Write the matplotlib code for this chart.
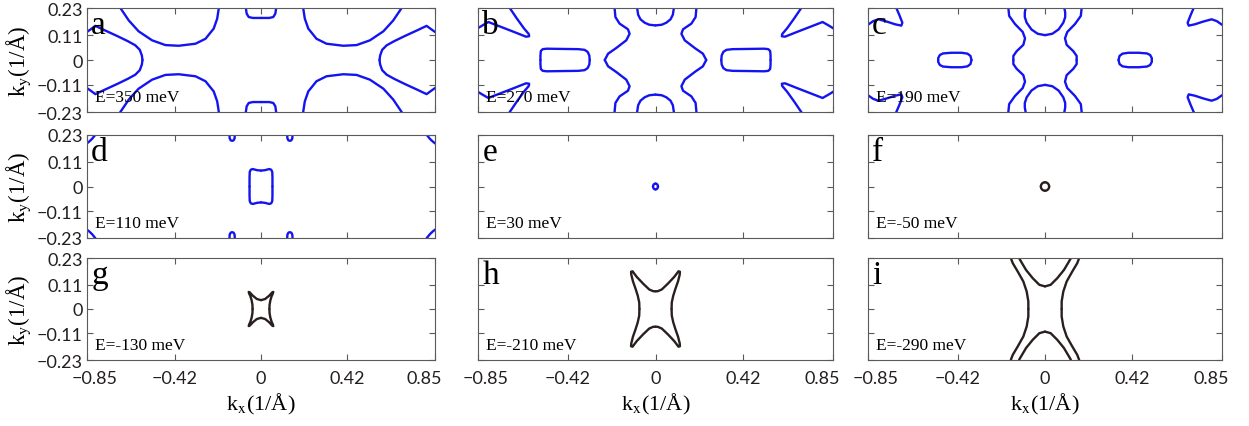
import matplotlib.pyplot as plt
import matplotlib.transforms as mtransforms
import numpy as np

plt.rcParams['mathtext.fontset'] = 'stix'

# axis ticks
kx_ticks = [-0.85, -0.42, 0, 0.42, 0.85]
kx_labels = ['\u22120.85', '\u22120.42', '0', '0.42', '0.85']
ky_ticks = [-0.23, -0.11, 0, 0.11, 0.23]
ky_labels = ['\u22120.23', '\u22120.11', '0', '0.11', '0.23']

panel_names = ['a', 'b', 'c', 'd', 'e', 'f', 'g', 'h', 'i']
energies = [350, 270, 190, 110, 30, -50, -130, -210, -290]

# Fermi contours, one quadrant (kx>=0, ky>=0) each; the rest follows by mirror symmetry
a_wedge = [(0.579, 0.0), (0.582, 0.02), (0.592, 0.045), (0.614, 0.065), (0.65, 0.083),
           (0.70, 0.105), (0.76, 0.13), (0.809, 0.151), (0.83, 0.137), (0.86, 0.118)]
a_pocket = [(0.206, 0.25), (0.206, 0.23), (0.214, 0.183), (0.231, 0.139), (0.271, 0.094),
            (0.32, 0.072), (0.402, 0.063), (0.467, 0.066), (0.532, 0.087), (0.598, 0.127),
            (0.646, 0.175), (0.687, 0.23), (0.70, 0.25)]
a_top = [(0.0, 0.186), (0.04, 0.186), (0.06, 0.19), (0.07, 0.205), (0.074, 0.23), (0.075, 0.25)]

b_side = [(0.315, 0.0), (0.317, 0.02), (0.325, 0.036), (0.34, 0.045), (0.37, 0.048),
          (0.45, 0.049), (0.52, 0.05), (0.54, 0.048), (0.549, 0.04), (0.551, 0.02), (0.551, 0.0)]
b_wavy = [(0.197, 0.25), (0.196, 0.23), (0.192, 0.19), (0.172, 0.161), (0.132, 0.136),
          (0.124, 0.116), (0.140, 0.087), (0.188, 0.053), (0.227, 0.028), (0.243, 0.0)]
b_top = [(0.0, 0.153), (0.03, 0.156), (0.052, 0.165), (0.072, 0.18), (0.083, 0.2),
         (0.088, 0.23), (0.089, 0.25)]
b_corner = [(0.71, 0.25), (0.698, 0.23), (0.665, 0.185), (0.63, 0.14), (0.607, 0.115),
            (0.605, 0.105), (0.62, 0.103), (0.68, 0.125), (0.75, 0.15), (0.80, 0.168),
            (0.825, 0.155), (0.85, 0.141), (0.87, 0.128)]

c_oval = [(0.353, 0.0), (0.358, 0.018), (0.372, 0.028), (0.40, 0.032), (0.45, 0.032),
          (0.49, 0.029), (0.505, 0.022), (0.513, 0.008), (0.513, 0.0)]
c_wavy = [(0.177, 0.25), (0.176, 0.23), (0.172, 0.195), (0.144, 0.159), (0.107, 0.124),
          (0.096, 0.096), (0.104, 0.067), (0.136, 0.039), (0.152, 0.018), (0.152, 0.0)]
c_top = [(0.0, 0.110), (0.035, 0.116), (0.065, 0.135), (0.088, 0.165), (0.097, 0.19),
         (0.097, 0.21), (0.093, 0.23), (0.091, 0.25)]
c_corner = [(0.725, 0.25), (0.714, 0.23), (0.70, 0.20), (0.685, 0.165), (0.69, 0.152),
            (0.72, 0.158), (0.76, 0.170), (0.80, 0.180), (0.825, 0.172), (0.85, 0.156),
            (0.87, 0.145)]

d_box = [(0.056, 0.0), (0.056, 0.04), (0.055, 0.065), (0.05, 0.075), (0.04, 0.078),
         (0.02, 0.073), (0.0, 0.071)]
d_top = [(0.128, 0.25), (0.128, 0.23), (0.129, 0.215), (0.134, 0.206), (0.141, 0.204),
         (0.148, 0.206), (0.153, 0.215), (0.154, 0.23), (0.154, 0.25)]
d_corner = [(0.80, 0.245), (0.81, 0.23), (0.825, 0.213), (0.84, 0.2), (0.85, 0.193), (0.87, 0.185)]

e_ring = [(0.012, 0.0), (0.011, 0.005), (0.0085, 0.0092), (0.0046, 0.012), (0.0, 0.013)]
f_ring = [(0.020, 0.0), (0.0185, 0.0073), (0.0141, 0.0134), (0.0077, 0.0176), (0.0, 0.019)]

g_box = [(0.041, 0.0), (0.042, 0.02), (0.046, 0.04), (0.052, 0.058), (0.058, 0.07),
         (0.060, 0.077), (0.055, 0.075), (0.04, 0.06), (0.02, 0.045), (0.0, 0.040)]

h_star = [(0.077, 0.0), (0.078, 0.03), (0.085, 0.06), (0.095, 0.09), (0.108, 0.125),
          (0.116, 0.155), (0.117, 0.168), (0.11, 0.17), (0.09, 0.145), (0.06, 0.115),
          (0.03, 0.088), (0.01, 0.08), (0.0, 0.080)]

i_outer = [(0.167, 0.24), (0.163, 0.227), (0.155, 0.207), (0.131, 0.169), (0.104, 0.124),
           (0.088, 0.079), (0.080, 0.034), (0.080, 0.0)]
i_inner = [(0.0, 0.102), (0.027, 0.109), (0.059, 0.139), (0.091, 0.176), (0.115, 0.214),
           (0.123, 0.227), (0.127, 0.24)]

panel_arcs = [
    [a_wedge, a_pocket, a_top],
    [b_side, b_wavy, b_top, b_corner],
    [c_oval, c_wavy, c_top, c_corner],
    [d_box, d_top, d_corner],
    [e_ring],
    [f_ring],
    [g_box],
    [h_star],
    [i_outer, i_inner],
]

BLUE = '#1414f0'
DARK = '#2a1f1f'
GREY = '#5a5a5a'

# axes boxes in pixels: left, top, right, bottom
col_px = [(87, 435), (478, 833), (868, 1222)]
row_px = [(9, 113), (136, 239), (259, 361)]

W, H = 1249, 427
fig = plt.figure(figsize=(W / 100, H / 100), dpi=100)

for n in range(9):
    r, c = divmod(n, 3)
    x0, x1 = col_px[c]
    y0, y1 = row_px[r]
    ax = fig.add_axes([x0 / W, 1 - y1 / H, (x1 - x0) / W, (y1 - y0) / H])

    color = BLUE if energies[n] >= 30 else DARK
    for arc in panel_arcs[n]:
        pts = np.array(arc)
        for sx in (1, -1):
            for sy in (1, -1):
                ax.plot(sx * pts[:, 0], sy * pts[:, 1], color=color, lw=1.7,
                        solid_capstyle='round', solid_joinstyle='round')

    ax.set_xlim(-0.85, 0.85)
    ax.set_ylim(-0.23, 0.23)
    ax.set_xticks(kx_ticks)
    ax.set_yticks(ky_ticks)
    ax.tick_params(direction='in', top=True, right=True, length=4, width=0.8,
                   color=GREY, labelsize=13, pad=3)
    for s in ax.spines.values():
        s.set_color(GREY)
        s.set_linewidth(0.8)

    if c == 0:
        ax.set_yticklabels(ky_labels, family='Lato', color='#231f20')
        ax.set_ylabel('k$_\\mathrm{y}$(1/\u00c5)', family='Liberation Serif', fontsize=16.5)
        ax.yaxis.set_label_coords(-0.155, 0.5)
    else:
        ax.set_yticklabels([])
    if r == 2:
        ax.set_xticklabels(kx_labels, family='Lato', color='#231f20')
        ax.tick_params(axis='x', pad=7)
        # end labels sit a little inside their ticks, as in the original
        labs = ax.get_xticklabels()
        labs[0].set_transform(labs[0].get_transform()
                              + mtransforms.ScaledTranslation(0.08, 0, fig.dpi_scale_trans))
        labs[-1].set_transform(labs[-1].get_transform()
                               + mtransforms.ScaledTranslation(-0.11, 0, fig.dpi_scale_trans))
        ax.set_xlabel('k$_\\mathrm{x}$(1/\u00c5)', family='Liberation Serif', fontsize=16)
        ax.xaxis.set_label_coords(0.5, -0.30)
    else:
        ax.set_xticklabels([])

    ax.text(0.012, 0.99, panel_names[n], transform=ax.transAxes, ha='left', va='top',
            family='Liberation Serif', fontsize=24)
    ax.text(0.022, 0.07, 'E=%d meV' % energies[n], transform=ax.transAxes,
            ha='left', va='bottom', family='Liberation Serif', fontsize=12.5)

fig.savefig('out.png', dpi=100)
